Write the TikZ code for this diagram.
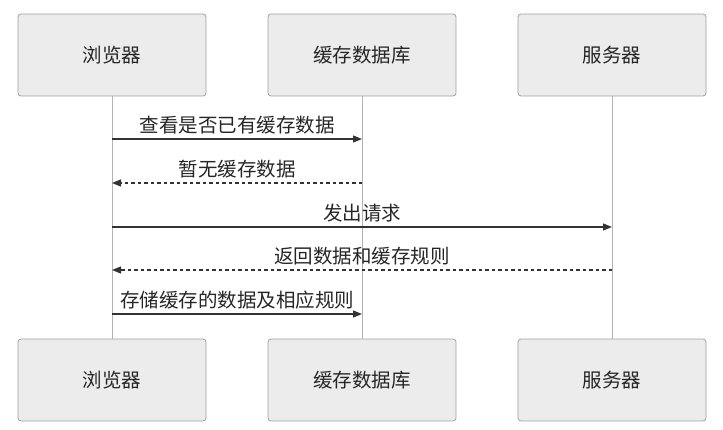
\documentclass[tikz,border=0pt]{standalone}
\usepackage{fontspec}
\newfontfamily\cjk{Noto Sans CJK SC}
\usetikzlibrary{arrows.meta}

\definecolor{boxfill}{HTML}{ECECEC}
\definecolor{boxline}{HTML}{A0A0A0}
\definecolor{msgline}{HTML}{333333}

\tikzset{
  actor/.style={draw=boxline, fill=boxfill, rounded corners=3pt, line width=0.8pt,
    minimum width=188pt, minimum height=82pt, inner sep=0pt,
    font=\cjk\fontsize{19.5}{22}\selectfont, text=black!85},
  lifeline/.style={draw=boxline!80, line width=0.9pt},
  msg/.style={draw=msgline, line width=1.3pt, -{Triangle[length=9pt,width=7pt]}},
  reply/.style={msg, dash pattern=on 3.5pt off 3pt},
  msglabel/.style={font=\cjk\fontsize{19.5}{22}\selectfont, text=black!85, above=0.5pt}
}

\begin{document}
\begin{tikzpicture}[x=1pt, y=-1pt]
  \useasboundingbox (0,0) rectangle (723,429);

  % participants, top and bottom
  \node[actor] (browserT) at (112,55)  {浏览器};
  \node[actor] (cacheT)   at (362,55)  {缓存数据库};
  \node[actor] (serverT)  at (612,55)  {服务器};
  \node[actor] (browserB) at (112,380) {浏览器};
  \node[actor] (cacheB)   at (362,380) {缓存数据库};
  \node[actor] (serverB)  at (612,380) {服务器};

  % lifelines
  \draw[lifeline] (browserT) -- (browserB);
  \draw[lifeline] (cacheT) -- (cacheB);
  \draw[lifeline] (serverT) -- (serverB);

  % messages
  \draw[msg]   (browserT |- 0,139) -- node[msglabel] {查看是否已有缓存数据} (cacheT |- 0,139);
  \draw[reply] (cacheT |- 0,183) -- node[msglabel] {暂无缓存数据} (browserT |- 0,183);
  \draw[msg]   (browserT |- 0,227) -- node[msglabel] {发出请求} (serverT |- 0,227);
  \draw[reply] (serverT |- 0,270) -- node[msglabel] {返回数据和缓存规则} (browserT |- 0,270);
  \draw[msg]   (browserT |- 0,314) -- node[msglabel] {存储缓存的数据及相应规则} (cacheT |- 0,314);
\end{tikzpicture}
\end{document}
